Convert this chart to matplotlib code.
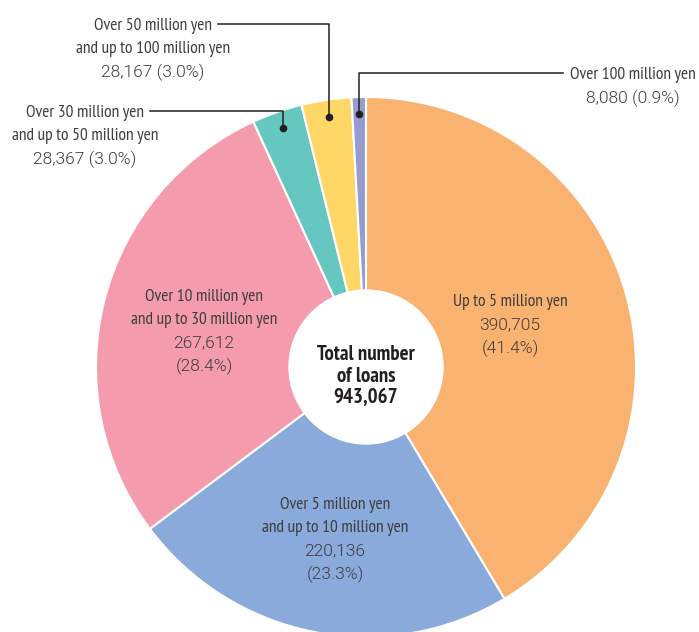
import numpy as np
import matplotlib
matplotlib.use("Agg")
import matplotlib.pyplot as plt

categories = ["Up to 5 million yen",
              "Over 5 million yen\nand up to 10 million yen",
              "Over 10 million yen\nand up to 30 million yen",
              "Over 30 million yen\nand up to 50 million yen",
              "Over 50 million yen\nand up to 100 million yen",
              "Over 100 million yen"]
counts = [390705, 220136, 267612, 28367, 28167, 8080]
pct_labels = ["41.4%", "23.3%", "28.4%", "3.0%", "3.0%", "0.9%"]
total_title = "Total number\nof loans"
total_label = "943,067"
colors = ["#F9B26F", "#89AADA", "#F49CAD", "#66C7C1", "#FFD767", "#969DCE"]

FONT = ["PT Sans Narrow", "Roboto Condensed", "DejaVu Sans"]
NFONT = ["Roboto", "DejaVu Sans"]
TXT = "#3d3d3d"
TS = 12.5   # text size
NS = 12.5   # number size
LS = 23     # line step in pixels

W, H = 699, 632
fig = plt.figure(figsize=(W / 100, H / 100), dpi=100)
ax = fig.add_axes([0, 0, 1, 1])

cx, cy = 366, H - 367
R = 270
ax.pie(counts, colors=colors, startangle=90, counterclock=False,
       center=(cx, cy), radius=R,
       wedgeprops=dict(edgecolor="white", linewidth=1.5))
ax.add_patch(plt.Circle((cx, cy), 77, color="white", zorder=5))
ax.set_xlim(0, W)
ax.set_ylim(0, H)
ax.set_aspect("equal")
ax.axis("off")

def fmt(v):
    return f"{v:,}"

def block(x, y0, lines, kinds):
    for k, (s, num) in enumerate(zip(lines, kinds)):
        if num:
            kw = dict(fontsize=NS, family=NFONT, fontweight=300)
        else:
            kw = dict(fontsize=TS, family=FONT)
        ax.text(x, H - (y0 + k * LS), s, ha="center", va="center",
                color=TXT, zorder=9, **kw)

# Inner labels: (center x, first line y)
inner_pos = [(510, 302), (335, 505), (204, 297)]
for i, (x, y) in enumerate(inner_pos):
    cl = categories[i].split("\n")
    lines = cl + [fmt(counts[i]), f"({pct_labels[i]})"]
    kinds = [False] * len(cl) + [True, True]
    block(x, y, lines, kinds)

# center label
ax.text(cx, H - 376, f"{total_title}\n{total_label}", ha="center",
        va="center", fontsize=15, fontweight="bold", color="#231f20",
        family=FONT, linespacing=1.2, zorder=6)

# outer labels with connectors: text center x, first line y, line end x
fracs = np.array(counts) / sum(counts)
cum = np.cumsum(fracs)
outer = {3: (85, 113, 150), 4: (153, 26, 218), 5: (633, 75, 563)}
for i, (tx, ly, lend) in outer.items():
    mid = cum[i] - fracs[i] / 2
    ang = np.deg2rad(90 - mid * 360)
    dx = cx + 253 * np.cos(ang)
    dy = cy + 253 * np.sin(ang)
    ax.plot([dx, dx, lend], [dy, H - ly + 2, H - ly + 2], color="#231f20",
            lw=1.1, zorder=7)
    ax.plot(dx, dy, "o", color="#231f20", ms=4.5, zorder=8)
    cl = categories[i].split("\n")
    lines = cl + [f"{fmt(counts[i])} ({pct_labels[i]})"]
    kinds = [False] * len(cl) + [True]
    block(tx, ly, lines, kinds)

fig.savefig("out.png", dpi=100)
